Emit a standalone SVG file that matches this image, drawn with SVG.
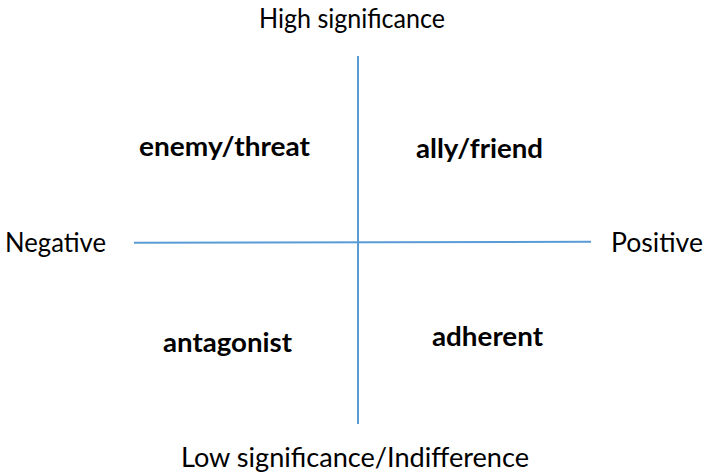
<svg xmlns="http://www.w3.org/2000/svg" width="705" height="474" viewBox="0 0 705 474">
<style>
.ax{stroke:#5b9bd5;stroke-width:2;fill:none}
.lbl{font-family:Lato,"Open Sans","Liberation Sans",sans-serif;font-size:26px;fill:#000}
.q{font-family:Lato,"Open Sans","Liberation Sans",sans-serif;font-size:26px;font-weight:bold;fill:#000}
</style>
<rect width="705" height="474" fill="#fff"/>
<g id="connectors">
<line class="ax" x1="358" y1="56" x2="358" y2="424"/>
<line class="ax" x1="134" y1="242.8" x2="591" y2="241.8"/>
</g>
<g id="high"><text class="lbl" x="259" y="28" textLength="186" lengthAdjust="spacingAndGlyphs">High significance</text></g>
<g id="low"><text class="lbl" x="181" y="467" textLength="348" lengthAdjust="spacingAndGlyphs">Low significance/Indifference</text></g>
<g id="negative"><text class="lbl" x="5" y="252" textLength="101" lengthAdjust="spacingAndGlyphs">Negative</text></g>
<g id="positive"><text class="lbl" x="611" y="252" textLength="92" lengthAdjust="spacingAndGlyphs">Positive</text></g>
<g id="enemy"><text class="q" x="139" y="156" textLength="171" lengthAdjust="spacingAndGlyphs">enemy/threat</text></g>
<g id="ally"><text class="q" x="416" y="158" textLength="127" lengthAdjust="spacingAndGlyphs">ally/friend</text></g>
<g id="antagonist"><text class="q" x="163" y="352" textLength="129" lengthAdjust="spacingAndGlyphs">antagonist</text></g>
<g id="adherent"><text class="q" x="432" y="346" textLength="111" lengthAdjust="spacingAndGlyphs">adherent</text></g>
</svg>
